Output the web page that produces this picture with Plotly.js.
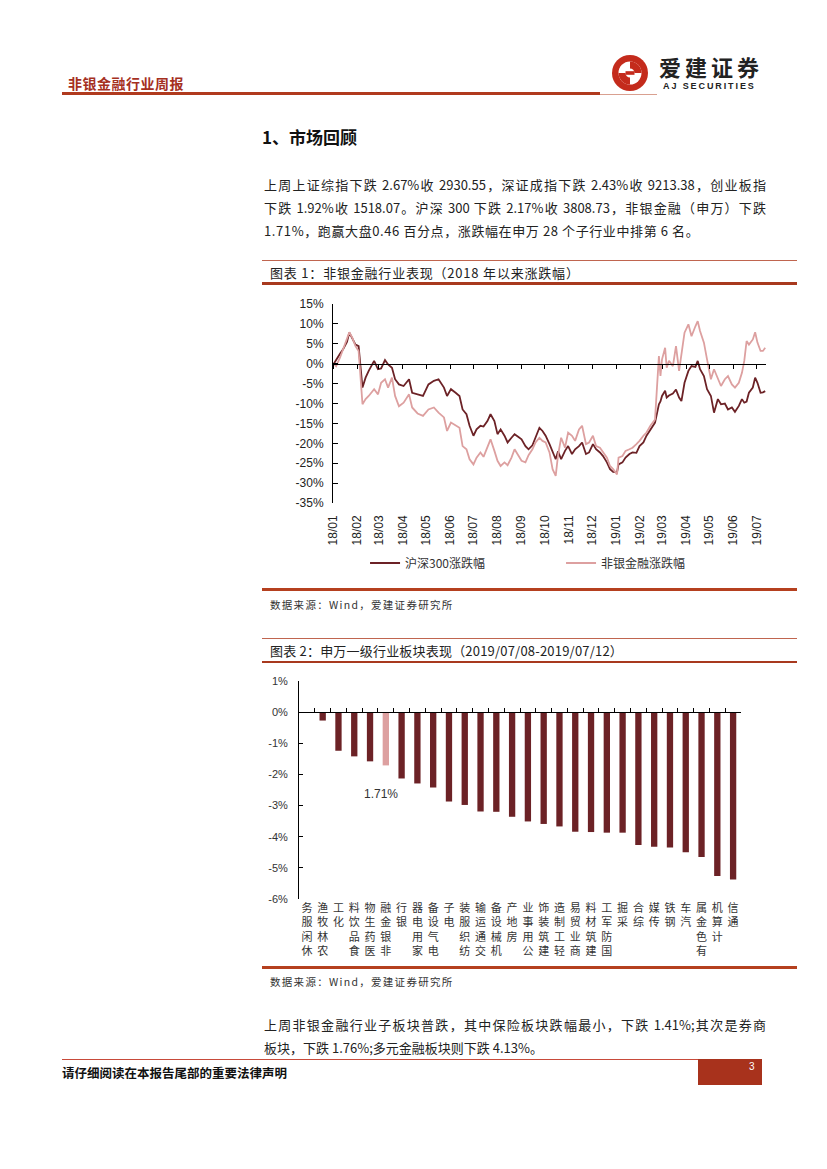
<!DOCTYPE html>
<html>
<head>
<meta charset="utf-8">
<script src="https://cdn.plot.ly/plotly-3.0.1.min.js"></script>
<style>
  html, body { margin:0; padding:0; background:#fff; }
  #page { position:relative; width:827px; height:1169px; background:#fff; overflow:hidden;
          font-family:"Noto Sans CJK SC", "Noto Sans", sans-serif; color:#222; }
  .abs { position:absolute; }
  .rule { position:absolute; }
  .para { position:absolute; left:264px; width:502px; font-size:13px; line-height:23px; color:#222; }
  .para div { white-space:nowrap; }
  .just { text-align:justify; text-align-last:justify; white-space:normal !important; }
  .cap { position:absolute; left:270px; font-size:13px; color:#222; }
  .src { position:absolute; left:270px; font-size:10.5px; letter-spacing:1.3px; color:#333; }
</style>
</head>
<body>
<div id="page">
  <!-- header -->
  <div class="abs" style="left:68px; top:73px; font-size:14px; font-weight:bold; color:#A5301F; letter-spacing:0.5px;">非银金融行业周报</div>
  <div class="rule" style="left:62px; top:92px; width:538px; height:3px; background:#B03A1E;"></div>
  <div class="rule" style="left:600px; top:94px; width:57px; height:1px; background:#D9A090;"></div>
  <svg class="abs" style="left:610px; top:53px;" width="40" height="40" viewBox="0 0 40 40">
    <circle cx="20" cy="20" r="18" fill="#C42B1C"/>
    <circle cx="20" cy="20" r="11.5" fill="#fff"/>
    <path d="M20 8.5 A11.5 11.5 0 0 1 31.5 20 L24.5 20 A4.5 4.5 0 0 0 20 15.5 Z" fill="#C42B1C"/>
    <path d="M20 31.5 A11.5 11.5 0 0 1 8.5 20 L15.5 20 A4.5 4.5 0 0 0 20 24.5 Z" fill="#C42B1C"/>
    <rect x="15.5" y="18.2" width="9" height="3.6" fill="#C42B1C"/>
  </svg>
  <div class="abs" style="left:659px; top:55px; font-size:22px; line-height:22px; font-weight:bold; color:#222; letter-spacing:4px;">爱建证券</div>
  <div class="abs" style="left:663px; top:82px; font-size:9px; line-height:9px; font-weight:bold; color:#222; letter-spacing:1.9px; font-family:'Liberation Sans', Arial, sans-serif;">AJ SECURITIES</div>

  <!-- section title -->
  <div class="abs" style="left:262px; top:124px; font-size:17px; font-weight:bold; color:#111;">1、市场回顾</div>

  <div class="para" style="top:173px;">
    <div class="just">上周上证综指下跌 2.67%收 2930.55，深证成指下跌 2.43%收 9213.38，创业板指</div>
    <div class="just">下跌 1.92%收 1518.07。沪深 300 下跌 2.17%收 3808.73，非银金融（申万）下跌</div>
    <div style="letter-spacing:0.6px;">1.71%，跑赢大盘0.46 百分点，涨跌幅在申万 28 个子行业中排第 6 名。</div>
  </div>

  <!-- figure 1 caption -->
  <div class="rule" style="left:262px; top:260px; width:535px; height:1px; background:#C0654F;"></div>
  <div class="cap" style="top:263px; letter-spacing:0.8px;">图表 1：非银金融行业表现（2018 年以来涨跌幅）</div>
  <div class="rule" style="left:262px; top:282px; width:535px; height:2.5px; background:#A8391E;"></div>

  <div id="chart1" class="abs" style="left:262px; top:290px; width:535px; height:298px;"></div>

  <div class="rule" style="left:262px; top:588px; width:535px; height:2.5px; background:#B5401F;"></div>
  <div class="src" style="top:597px;">数据来源：Wind，爱建证券研究所</div>

  <!-- figure 2 caption -->
  <div class="rule" style="left:262px; top:638px; width:535px; height:1px; background:#C0654F;"></div>
  <div class="cap" style="top:641px; letter-spacing:0.2px;">图表 2：申万一级行业板块表现（2019/07/08-2019/07/12）</div>
  <div class="rule" style="left:262px; top:661px; width:535px; height:2.5px; background:#A8391E;"></div>

  <div id="chart2" class="abs" style="left:262px; top:663px; width:535px; height:302px;"></div>

  <div class="rule" style="left:262px; top:966px; width:535px; height:2.5px; background:#B5401F;"></div>
  <div class="src" style="top:974px;">数据来源：Wind，爱建证券研究所</div>

  <div class="para" style="top:1013px;">
    <div class="just">上周非银金融行业子板块普跌，其中保险板块跌幅最小，下跌 1.41%;其次是券商</div>
    <div>板块，下跌 1.76%;多元金融板块则下跌 4.13%。</div>
  </div>

  <!-- footer -->
  <div class="rule" style="left:62px; top:1059px; width:700px; height:1px; background:#C84A3A;"></div>
  <div class="abs" style="left:62px; top:1063px; font-size:12.5px; font-weight:bold; color:#111;">请仔细阅读在本报告尾部的重要法律声明</div>
  <div class="abs" style="left:698px; top:1059px; width:64px; height:26px; background:#A8321C;"></div>
  <div class="abs" style="left:749px; top:1061px; font-size:10px; color:#fff; font-family:'Liberation Sans', Arial, sans-serif;">3</div>
</div>

<script>
// ---------------- Chart 1 data ----------------
const lineDates = [
 '2018-01-02','2018-01-05','2018-01-10','2018-01-14','2018-01-19','2018-01-22','2018-01-26','2018-01-30',
 '2018-02-03','2018-02-08','2018-02-12','2018-02-16','2018-02-23','2018-02-28','2018-03-04','2018-03-09',
 '2018-03-13','2018-03-18','2018-03-22','2018-03-27','2018-04-02','2018-04-09','2018-04-13','2018-04-20',
 '2018-04-27','2018-05-04','2018-05-11','2018-05-17','2018-05-24','2018-05-28','2018-06-02','2018-06-08',
 '2018-06-13','2018-06-17','2018-06-22','2018-06-26','2018-07-01','2018-07-05','2018-07-10','2018-07-14',
 '2018-07-19','2018-07-23','2018-07-28','2018-08-01','2018-08-05','2018-08-10','2018-08-14','2018-08-19',
 '2018-08-23','2018-08-28','2018-09-01','2018-09-06','2018-09-10','2018-09-15','2018-09-19','2018-09-24',
 '2018-09-28','2018-10-02','2018-10-07','2018-10-11','2018-10-15','2018-10-18','2018-10-22','2018-10-27',
 '2018-10-31','2018-11-05','2018-11-09','2018-11-14','2018-11-18','2018-11-23','2018-11-27','2018-12-02',
 '2018-12-06','2018-12-11','2018-12-15','2018-12-20','2018-12-24','2018-12-28','2019-01-02','2019-01-04',
 '2019-01-09','2019-01-13','2019-01-18','2019-01-22','2019-01-27','2019-01-31','2019-02-05','2019-02-09',
 '2019-02-14','2019-02-20','2019-02-25','2019-02-27','2019-03-01','2019-03-05','2019-03-07','2019-03-10',
 '2019-03-15','2019-03-19','2019-03-23','2019-03-26','2019-03-30','2019-04-04','2019-04-08','2019-04-13',
 '2019-04-16','2019-04-19','2019-04-24','2019-04-28','2019-05-03','2019-05-07','2019-05-12','2019-05-16',
 '2019-05-21','2019-05-25','2019-05-30','2019-06-03','2019-06-08','2019-06-12','2019-06-15','2019-06-18',
 '2019-06-21','2019-06-26','2019-06-29','2019-07-02','2019-07-06','2019-07-09','2019-07-12'
];
const hs300Change = [
  0.0, 1.0, 2.5, 3.6, 5.5, 7.8, 6.1, 4.8,
  4.4, -6.0, -3.5, -1.8, 0.7, -1.4, -1.2, 0.9,
  -0.2, -1.0, -3.9, -5.2, -5.6, -3.9, -7.3, -7.7,
  -8.1, -5.2, -4.3, -3.9, -6.0, -8.1, -6.4, -7.3,
  -8.1, -11.5, -12.7, -15.6, -18.1, -16.5, -15.6, -15.8,
  -14.4, -12.7, -14.4, -17.7, -16.5, -18.1, -19.8, -18.6,
  -17.7, -18.4, -19.0, -20.7, -21.5, -20.5, -18.6, -16.1,
  -16.9, -18.1, -20.2, -22.3, -24.0, -22.0, -24.0, -21.9,
  -20.7, -22.7, -21.5, -20.7, -19.8, -22.7, -22.3, -20.2,
  -21.5, -22.3, -23.2, -24.8, -26.5, -27.2, -27.3, -25.3,
  -24.8, -23.6, -22.7, -22.3, -22.4, -20.7, -19.8, -18.1,
  -16.5, -14.8, -10.2, -9.5, -8.1, -6.8, -8.5, -8.0,
  -7.5, -6.5, -8.5, -9.4, -4.8, -1.8, -0.6, -0.8,
  0.7, -1.4, -3.1, -6.4, -8.1, -12.3, -8.9, -10.2,
  -10.0, -11.5, -11.0, -12.1, -10.6, -8.9, -9.8, -9.5,
  -7.3, -6.0, -3.5, -4.8, -7.3, -7.2, -6.9
];
const nonBankChange = [
  0.0, -0.6, 1.5, 3.6, 6.0, 7.9, 6.5, 4.4,
  3.2, -10.2, -8.9, -8.1, -6.4, -7.7, -4.8, -3.9,
  -6.0, -3.5, -8.1, -10.7, -9.8, -7.7, -11.0, -12.5,
  -13.1, -11.5, -11.0, -12.3, -13.5, -16.9, -14.8, -15.6,
  -16.1, -20.7, -21.5, -24.0, -25.3, -23.6, -22.3, -23.4,
  -20.7, -19.0, -21.9, -24.4, -25.7, -24.8, -25.5, -23.6,
  -21.5, -23.2, -24.4, -24.8, -23.0, -21.5, -19.8, -18.6,
  -19.4, -19.8, -22.3, -26.5, -28.2, -23.0, -18.6, -21.1,
  -17.3, -18.1, -19.4, -16.5, -15.6, -20.2, -19.8, -18.1,
  -20.7, -21.1, -22.3, -23.6, -25.7, -26.5, -27.8, -23.6,
  -23.2, -21.9, -21.5, -21.1, -20.2, -19.4, -18.1, -17.3,
  -15.6, -14.0, 1.9, -3.1, 1.1, 4.0, -1.0, 0.7,
  -0.6, 4.4, -1.8, 1.9, 7.8, 9.9, 6.9, 9.4,
  10.7, 8.2, 5.3, 1.1, -3.9, -1.4, -3.5, -5.6,
  -3.9, -3.1, -5.2, -6.0, -4.8, -2.3, 0.7, 5.7,
  4.8, 6.1, 7.9, 5.3, 3.2, 3.2, 4.0
];
const seriesNames = ['沪深300涨跌幅', '非银金融涨跌幅'];
const yTicks1 = [15, 10, 5, 0, -5, -10, -15, -20, -25, -30, -35];

// ---------------- Chart 2 data ----------------
const industries = ['休闲服务','农林牧渔','化工','食品饮料','医药生物','非银金融','银行','家用电器','电气设备','电子',
  '纺织服装','交通运输','机械设备','房地产','公用事业','建筑装饰','轻工制造','商业贸易','建筑材料','国防军工',
  '采掘','综合','传媒','钢铁','汽车','有色金属','计算机','通信'];
const weeklyChange = [-0.02, -0.27, -1.24, -1.42, -1.58, -1.71, -2.13, -2.29, -2.42, -2.87,
  -2.98, -3.19, -3.20, -3.36, -3.51, -3.59, -3.67, -3.84, -3.85, -3.87,
  -3.87, -4.27, -4.32, -4.35, -4.50, -4.65, -5.26, -5.37];
const highlightIndustry = '非银金融';
const yTicks2 = [1, 0, -1, -2, -3, -4, -5, -6];

const darkRed = '#6C2226';
const pinkRed = '#DDA0A0';
const tickFont = {family:'Liberation Sans, Arial, sans-serif', size:12, color:'#222'};
const cjk = 'Noto Sans CJK SC, sans-serif';

// ---- chart 1 ----
const xr1 = ['2018-01-01', '2019-07-13'];
const traces1 = [
  {type:'scatter', mode:'lines', x: lineDates, y: hs300Change, name: seriesNames[0],
   line:{color:darkRed, width:1.8}, hoverinfo:'skip'},
  {type:'scatter', mode:'lines', x: lineDates, y: nonBankChange, name: seriesNames[1],
   line:{color:pinkRed, width:1.8}, hoverinfo:'skip'},
  {type:'scatter', mode:'lines', x: lineDates, y: hs300Change, xaxis:'x2', showlegend:false,
   line:{color:'rgba(0,0,0,0)', width:0}, hoverinfo:'skip'}
];
const layout1 = {
  width:535, height:298,
  margin:{l:71, r:31, t:14, b:84},
  paper_bgcolor:'#fff', plot_bgcolor:'rgba(0,0,0,0)',
  showlegend:true,
  legend:{orientation:'h', x:0.074, xanchor:'left', y:-0.295, yanchor:'middle',
          font:{family:cjk, size:12, color:'#333'}, entrywidth:151, tracegroupgap:0,
          bgcolor:'rgba(0,0,0,0)'},
  xaxis:{type:'date', range:xr1, tickmode:'linear', tick0:'2018-01-01', dtick:'M1',
         tickformat:'%y/%m', tickangle:-90, showline:false, showgrid:false, zeroline:false,
         ticks:'', tickfont:tickFont, ticklabelstandoff:9},
  xaxis2:{type:'date', range:xr1, overlaying:'x', anchor:'free', position:35/50,
          tickmode:'linear', tick0:'2018-01-01', dtick:'M1', showticklabels:false,
          showline:true, linecolor:'#000', linewidth:1, ticks:'outside', ticklen:4,
          tickcolor:'#000', showgrid:false, zeroline:false},
  yaxis:{range:[-35, 15], tickmode:'array', tickvals:yTicks1,
         ticktext:yTicks1.map(v => (v < 0 ? '-' + Math.abs(v) : String(v)) + '%'),
         showline:true, linecolor:'#000', linewidth:1, ticks:'inside', ticklen:5,
         tickcolor:'#000', showgrid:false, zeroline:false, tickfont:tickFont, ticklabelstandoff:6}
};
Plotly.newPlot('chart1', traces1, layout1, {staticPlot:true, displayModeBar:false});

// ---- chart 2 ----
const stackedLabels = industries.map(n => n.split('').reverse().join('<br>'));
const barColors = industries.map(n => n === highlightIndustry ? pinkRed : darkRed);
const hiIdx = industries.indexOf(highlightIndustry);
const traces2 = [
  {type:'bar', x: industries, y: weeklyChange, marker:{color:barColors}, width:0.4, hoverinfo:'skip'},
  {type:'scatter', mode:'lines', x: industries, y: weeklyChange, xaxis:'x2', showlegend:false,
   line:{color:'rgba(0,0,0,0)', width:0}, hoverinfo:'skip'}
];
const layout2 = {
  width:535, height:302,
  margin:{l:37, r:56, t:18, b:66},
  paper_bgcolor:'#fff', plot_bgcolor:'rgba(0,0,0,0)',
  showlegend:false,
  xaxis:{type:'category', categoryorder:'array', categoryarray:industries, range:[-0.5, industries.length - 0.5],
         tickmode:'array', tickvals:industries, ticktext:stackedLabels, tickangle:0,
         showline:false, showgrid:false, zeroline:false, ticks:'',
         tickfont:{family:cjk, size:11, color:'#333'}, ticklabelstandoff:1},
  xaxis2:{type:'category', categoryorder:'array', categoryarray:industries, range:[-0.5, industries.length - 0.5],
          overlaying:'x', anchor:'free', position:6/7, showticklabels:false,
          showline:true, linecolor:'#000', linewidth:1, ticks:'inside', ticklen:4, tickson:'boundaries',
          tickcolor:'#000', showgrid:false, zeroline:false},
  yaxis:{range:[-6, 1], tickmode:'array', tickvals:yTicks2,
         ticktext:yTicks2.map(v => (v < 0 ? '-' + Math.abs(v) : String(v)) + '%'),
         showline:true, linecolor:'#000', linewidth:1, ticks:'inside', ticklen:4, tickcolor:'#000',
         showgrid:false, zeroline:false,
         tickfont:{family:'Liberation Sans, Arial, sans-serif', size:11, color:'#333'}, ticklabelstandoff:8},
  annotations:[{x: highlightIndustry, y: weeklyChange[hiIdx], xref:'x', yref:'y',
    text: Math.abs(weeklyChange[hiIdx]).toFixed(2) + '%', showarrow:false,
    yanchor:'middle', yshift:-29, xshift:-5,
    font:{family:'Liberation Sans, Arial, sans-serif', size:12, color:'#333'}}]
};
Plotly.newPlot('chart2', traces2, layout2, {staticPlot:true, displayModeBar:false});
</script>
</body>
</html>
